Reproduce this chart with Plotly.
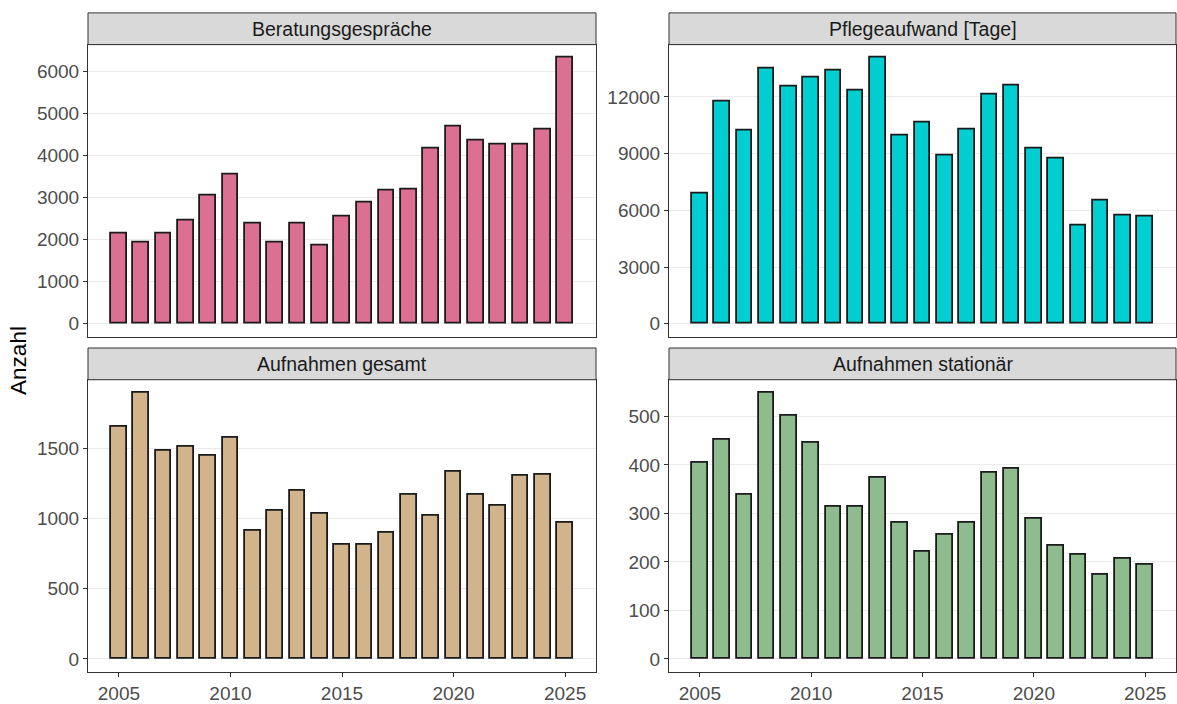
import plotly.graph_objects as go

years = list(range(2005, 2026))

beratung = [2150, 1940, 2150, 2450, 3050, 3550, 2370, 1920, 2380, 1860, 2545,
            2880, 3155, 3200, 4170, 4680, 4350, 4255, 4255, 4610, 6320]
pflege = [6870, 11740, 10240, 13490, 12550, 13000, 13410, 12310, 14060, 9940, 10660,
          8870, 10290, 12100, 12600, 9290, 8740, 5200, 6540, 5740, 5670]
aufn_gesamt = [1658, 1896, 1487, 1515, 1452, 1574, 917, 1059, 1202, 1033, 812,
               812, 903, 1172, 1019, 1337, 1174, 1090, 1304, 1313, 970]
aufn_stat = [404, 451, 338, 548, 501, 446, 314, 314, 374, 280, 220,
             256, 280, 384, 393, 289, 234, 215, 174, 206, 195]

titles = ["Beratungsgespräche", "Pflegeaufwand [Tage]", "Aufnahmen gesamt", "Aufnahmen stationär"]
series = [beratung, pflege, aufn_gesamt, aufn_stat]
colors = ["#DB7093", "#00CED1", "#D2B48C", "#8FBC8F"]
dticks = [1000, 3000, 500, 100]
x_ticks = [2005, 2010, 2015, 2020, 2025]

W, H = 1177, 704
FONT = "Liberation Sans, Arial, sans-serif"

# panel pixel boxes (x0, x1, y_top, y_bottom, strip_top)
panels = [
    (88, 596, 45, 340, 13),
    (669, 1176, 45, 340, 13),
    (88, 596, 383, 678, 351),
    (669, 1176, 383, 678, 351),
]

def px(x):
    return x / W

def py(y):
    return 1 - y / H

fig = go.Figure()
shapes = []
annotations = []
bar_w = 0.7
xr = [years[0] - bar_w / 2, years[-1] + bar_w / 2]
xspan = xr[1] - xr[0]
xrange = [xr[0] - 0.05 * xspan, xr[1] + 0.05 * xspan]

for i, (vals, col, title, dt, pb) in enumerate(zip(series, colors, titles, dticks, panels)):
    n = i + 1
    xa = "x" if n == 1 else f"x{n}"
    ya = "y" if n == 1 else f"y{n}"
    fig.add_trace(go.Bar(
        x=years, y=vals, width=bar_w,
        marker=dict(color=col, line=dict(color="#1A1A1A", width=1.8)),
        xaxis=xa, yaxis=ya, showlegend=False,
    ))
    x0, x1, yt, yb, st = pb
    vmax = max(vals)
    yrange = [-0.05 * vmax, 1.05 * vmax]
    bottom = i >= 2
    xkey = "xaxis" if n == 1 else f"xaxis{n}"
    ykey = "yaxis" if n == 1 else f"yaxis{n}"
    fig.update_layout(**{
        xkey: dict(
            domain=[px(x0), px(x1)], anchor=ya, range=xrange,
            tickvals=x_ticks if bottom else [],
            showticklabels=bottom, ticks="outside" if bottom else "",
            ticklen=4, tickwidth=1, tickcolor="#333333",
            showgrid=False, zeroline=False,
            showline=True, linecolor="#333333", linewidth=1, mirror=True,
            tickfont=dict(family=FONT, size=19, color="#4D4D4D"),
        ),
        ykey: dict(
            domain=[py(yb), py(yt)], anchor=xa, range=yrange,
            tick0=0, dtick=dt, tickformat="d", ticks="outside", ticklen=4, tickwidth=1,
            tickcolor="#333333",
            showgrid=True, gridcolor="#EBEBEB", gridwidth=1, zeroline=False,
            showline=True, linecolor="#333333", linewidth=1, mirror=True,
            tickfont=dict(family=FONT, size=19, color="#4D4D4D"),
        ),
    })
    shapes.append(dict(
        type="rect", xref="paper", yref="paper",
        x0=px(x0), x1=px(x1), y0=py(yt), y1=py(st),
        fillcolor="#D9D9D9", line=dict(color="#333333", width=1), layer="above",
    ))
    annotations.append(dict(
        text=title, xref="paper", yref="paper",
        x=px((x0 + x1) / 2), y=py((st + yt) / 2),
        xanchor="center", yanchor="middle", showarrow=False,
        font=dict(family=FONT, size=19.5, color="#1A1A1A"),
    ))

annotations.append(dict(
    text="Anzahl", xref="paper", yref="paper",
    x=px(19), y=py(364), xanchor="center", yanchor="middle",
    textangle=-90, showarrow=False,
    font=dict(family=FONT, size=22.5, color="#000000"),
))

fig.update_layout(
    width=W, height=H,
    margin=dict(l=0, r=0, t=0, b=0),
    paper_bgcolor="white", plot_bgcolor="white",
    shapes=shapes, annotations=annotations,
    bargap=0,
)

fig.write_html(
    "out.html",
    config={"displayModeBar": False},
    post_script="document.body.style.margin='0';document.body.style.overflow='hidden';",
)
